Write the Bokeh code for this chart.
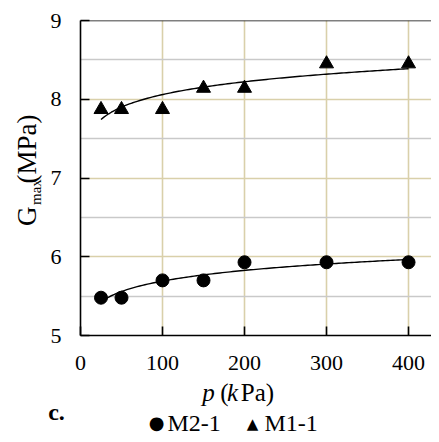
import math
import numpy as np
from bokeh.plotting import figure
from bokeh.layouts import row, column
from bokeh.models import Span, FixedTicker, Range1d
from bokeh.core.properties import value
from bokeh.embed import file_html
from bokeh.resources import INLINE

# ---- data ----
p_kpa = [25, 50, 100, 150, 200, 300, 400]
gmax_m2_1 = [5.48, 5.48, 5.70, 5.70, 5.93, 5.93, 5.93]
gmax_m1_1 = [7.87, 7.87, 7.87, 8.14, 8.14, 8.45, 8.45]
x_ticks = [0, 100, 200, 300, 400]
x_grid = [100, 200, 300, 400]
y_ticks = [5, 6, 7, 8, 9]
y_minor = [5.5, 6.5, 7.5, 8.5]
series_names = ["M2-1", "M1-1"]
x_title = ["p", "(", "k", "Pa)"]
y_title = ["G", "max", "(MPa)"]
panel_tag = "c."

# power-law trend lines fitted to the data (spreadsheet-style power trendline)
def power_fit(xs, ys):
    b, lna = np.polyfit(np.log(xs), np.log(ys), 1)
    xx = np.linspace(min(xs), max(xs), 120)
    return xx, np.exp(lna) * xx ** b

W, H = 431, 434
LEFT_W = 45          # width of the y-title strip
MAIN_H = 380         # height of main plot (frame + x tick labels)
BOT_H = H - MAIN_H   # strip with x title, tag and legend
FRAME_L, FRAME_T, FRAME_B = 80, 20, 335
X_MAX = 428
FONT = "Liberation Serif, Times New Roman, Tinos, DejaVu Serif, serif"
SYM_FONT = "DejaVu Sans"
TAN = "#d9d0aa"
GRAY = "#c9c9c9"

# ---------------- main plot ----------------
p = figure(width=W - LEFT_W, height=MAIN_H, x_range=(0, X_MAX), y_range=(5, 9),
           output_backend="svg", toolbar_location=None,
           min_border_left=FRAME_L - LEFT_W, min_border_right=0,
           min_border_top=FRAME_T, min_border_bottom=MAIN_H - FRAME_B)
p.outline_line_color = None

p.xgrid.ticker = FixedTicker(ticks=x_grid)
p.xgrid.grid_line_color = TAN
p.xgrid.grid_line_width = 1.6
p.ygrid.ticker = FixedTicker(ticks=y_ticks, minor_ticks=y_minor)
p.ygrid.grid_line_color = TAN
p.ygrid.grid_line_width = 1.6
p.ygrid.minor_grid_line_color = GRAY
p.ygrid.minor_grid_line_width = 1.6

p.xaxis.ticker = FixedTicker(ticks=x_ticks)
p.yaxis.ticker = FixedTicker(ticks=y_ticks, minor_ticks=y_minor)
for ax in (p.xaxis[0], p.yaxis[0]):
    ax.axis_line_color = "black"
    ax.axis_line_width = 1.6
    ax.major_tick_in = 9
    ax.major_tick_out = 0
    ax.major_tick_line_color = "black"
    ax.major_tick_line_width = 1.6
    ax.minor_tick_in = 0
    ax.minor_tick_out = 0
    ax.major_label_text_font = FONT
    ax.major_label_text_font_size = "22px"
    ax.major_label_text_color = "black"
p.yaxis.major_label_standoff = 19
p.xaxis.major_label_standoff = 20

p.add_layout(Span(location=9, dimension="width", line_color="black", line_width=1.6))

for ys in (gmax_m2_1, gmax_m1_1):
    xx, yy = power_fit(p_kpa, ys)
    p.line(xx, yy, line_color="black", line_width=1.4)

p.scatter(p_kpa, gmax_m2_1, marker="circle", size=13, color="black")
p.scatter(p_kpa, gmax_m1_1, marker="triangle", size=14, color="black")

# ---------------- text strips (pixel-like coordinates) ----------------
def strip(w, h):
    f = figure(width=w, height=h, x_range=Range1d(0, w), y_range=Range1d(0, h),
               output_backend="svg", toolbar_location=None,
               x_axis_type=None, y_axis_type=None,
               min_border=0, min_border_left=0, min_border_right=0,
               min_border_top=0, min_border_bottom=0)
    f.outline_line_color = None
    f.grid.visible = False
    return f

def put(f, top, txt, px, py, size, style="normal", align="center",
        angle=0.0, font=FONT):
    # px, py: centre of the text in page pixels (origin top-left)
    f.text(x=[px], y=[f.height - (py - top)], text=[txt],
           angle=angle, text_font=value(font), text_font_size=value(size),
           text_font_style=value(style), text_align=value(align),
           text_baseline=value("middle"), text_color="black")

# y-title strip (rotated)
ly = strip(LEFT_W, MAIN_H)
R = math.pi / 2
put(ly, 0, y_title[0], 26, 236, "27px", angle=R)
put(ly, 0, y_title[1], 35, 207, "15px", angle=R)
put(ly, 0, y_title[2], 26, 155, "27px", angle=R)

# bottom strip
bt = strip(W, BOT_H)
put(bt, MAIN_H, x_title[0], 208, 392, "25px", style="italic")
put(bt, MAIN_H, x_title[1], 224, 392, "25px")
put(bt, MAIN_H, x_title[2], 232, 392, "25px", style="italic")
put(bt, MAIN_H, x_title[3], 257, 392, "25px")
put(bt, MAIN_H, panel_tag, 56, 411, "24px", style="bold")
put(bt, MAIN_H, "\u25CF", 156, 422, "18px", font=SYM_FONT)
put(bt, MAIN_H, series_names[0], 167, 422, "24px", align="left")
put(bt, MAIN_H, "\u25B2", 252, 423, "15px", font=SYM_FONT)
put(bt, MAIN_H, series_names[1], 264, 422, "24px", align="left")

layout = column(row(ly, p), bt)
open("out.html", "w").write(file_html(layout, INLINE))
